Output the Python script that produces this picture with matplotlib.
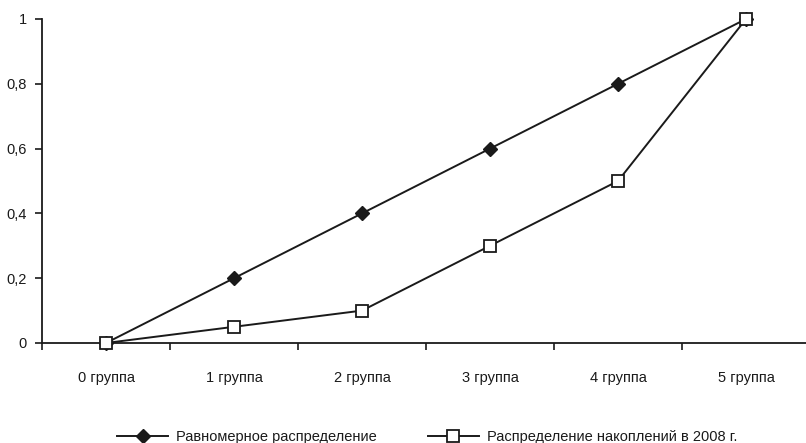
import matplotlib.pyplot as plt
from matplotlib.ticker import FuncFormatter

plt.rcParams['font.family'] = ['Liberation Sans', 'DejaVu Sans']

groups = ["0 группа", "1 группа", "2 группа", "3 группа", "4 группа", "5 группа"]
uniform = [0, 0.2, 0.4, 0.6, 0.8, 1.0]
savings_2008 = [0, 0.05, 0.1, 0.3, 0.5, 1.0]

fig = plt.figure(figsize=(8.06, 4.43), dpi=100)
ax = fig.add_axes([42 / 806, 100 / 443, 768 / 806, 324 / 443])

x = list(range(len(groups)))
ax.plot(x, uniform, color="#1a1a1a", lw=1.4, marker="D", ms=7.5,
        mfc="#1a1a1a", mec="#1a1a1a", label="Равномерное распределение", clip_on=False, zorder=3)
ax.plot(x, savings_2008, color="#1a1a1a", lw=1.4, marker="s", ms=8,
        mfc="white", mec="#1a1a1a", mew=1.3, label="Распределение накоплений в 2008 г.",
        clip_on=False, zorder=4)

ax.set_xlim(-0.5, 5.5)
ax.set_ylim(0, 1)
ax.set_yticks([0, 0.2, 0.4, 0.6, 0.8, 1.0])
ax.yaxis.set_major_formatter(FuncFormatter(lambda v, p: ("%g" % round(v, 1)).replace(".", ",")))
# category boundaries get the tick marks, labels sit in the middle
ax.set_xticks([i - 0.5 for i in range(len(groups))])
ax.set_xticklabels([])
ax.set_xticks(x, minor=True)
ax.set_xticklabels(groups, minor=True)
ax.tick_params(axis="x", which="minor", length=0, pad=20, labelsize=10.5, colors="#1a1a1a")
ax.tick_params(axis="x", which="major", length=5, width=1.2, direction="out", colors="#1a1a1a")
ax.tick_params(axis="y", length=5, width=1.2, direction="out", labelsize=10.5, pad=6, colors="#1a1a1a")

for s in ["top", "right"]:
    ax.spines[s].set_visible(False)
for s in ["left", "bottom"]:
    ax.spines[s].set_linewidth(1.3)
    ax.spines[s].set_color("#1a1a1a")

fig.legend(loc="center", bbox_to_anchor=(0.530, 6 / 443), ncol=2, frameon=False,
           handlelength=3.5, columnspacing=3.45, fontsize=10.5, handletextpad=0.55,
           borderaxespad=0, borderpad=0, labelcolor="#1a1a1a")

fig.savefig("out.png", dpi=100)
